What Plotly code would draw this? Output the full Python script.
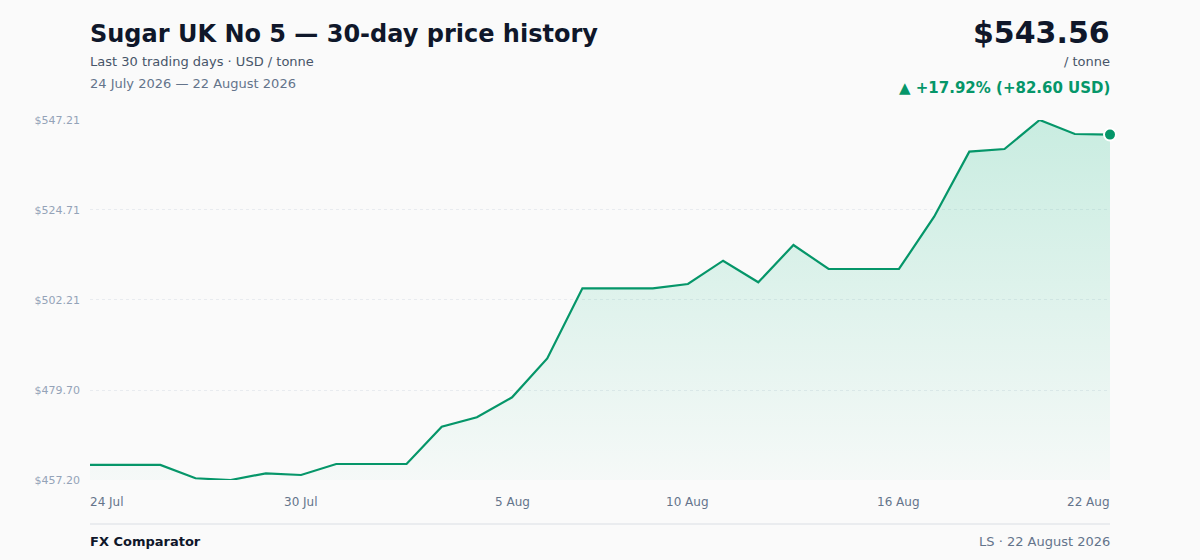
import plotly.graph_objects as go
import pandas as pd

# ---- data ----
dates = pd.date_range("2026-07-24", "2026-08-22", freq="D").strftime("%Y-%m-%d").tolist()
prices = [460.96, 460.96, 460.96, 457.63, 457.20, 458.87, 458.45, 461.20, 461.20, 461.20,
          470.53, 472.87, 477.87, 487.60, 505.13, 505.13, 505.13, 506.20, 512.03, 506.63,
          515.96, 509.96, 509.96, 509.96, 523.03, 539.30, 539.96, 547.21, 543.71, 543.56]
y_ticks = [457.20, 479.70, 502.21, 524.71, 547.21]
x_tick_dates = ["2026-07-24", "2026-07-30", "2026-08-05", "2026-08-10", "2026-08-16", "2026-08-22"]
x_tick_labels = ["24 Jul", "30 Jul", "5 Aug", "10 Aug", "16 Aug", "22 Aug"]

title = "Sugar UK No 5 — 30-day price history"
subtitle = "Last 30 trading days · USD / tonne"
date_range = "24 July 2026 — 22 August 2026"
last_price = prices[-1]
change = prices[-1] - prices[0]
change_pct = change / prices[0] * 100

GREEN = "#059669"
W, H = 1200, 560
M_L, M_R, M_T, M_B = 90, 90, 120, 80
PH = H - M_T - M_B
ymin, ymax = min(prices), max(prices)

fig = go.Figure()
# baseline for fill
fig.add_trace(go.Scatter(x=dates, y=[ymin] * len(dates), mode="lines",
                         line=dict(width=0), hoverinfo="skip", showlegend=False))
fig.add_trace(go.Scatter(
    x=dates, y=prices, mode="lines", fill="tonexty",
    line=dict(color=GREEN, width=2.2),
    fillgradient=dict(type="vertical",
                      colorscale=[[0, "rgba(16,185,129,0.02)"], [1, "rgba(16,185,129,0.21)"]]),
    hoverinfo="skip", showlegend=False))
fig.add_trace(go.Scatter(x=[dates[-1]], y=[last_price], mode="markers",
                         marker=dict(size=12, color=GREEN, line=dict(color="white", width=2)),
                         hoverinfo="skip", showlegend=False, cliponaxis=False))

def py(p):
    # pixel row -> paper y
    return (H - M_B - p) / PH

ann = []
def add(text, x, y, xanchor, size, color, xref="paper"):
    shift = -2 if xanchor == "left" else (2 if xanchor == "right" else 0)
    ann.append(dict(text=text, x=x, xref=xref, y=py(y), yref="paper",
                    xanchor=xanchor, yanchor="middle", showarrow=False, xshift=shift,
                    font=dict(size=size, color=color)))

add(f"<b>{title}</b>", 0, 34.5, "left", 24, "#0f172a")
add(subtitle, 0, 61.5, "left", 13, "#475569")
add(date_range, 0, 83.5, "left", 13, "#64748b")
add(f"<b>${last_price:.2f}</b>", 1, 32.5, "right", 30, "#0f172a")
add("/ tonne", 1, 61.5, "right", 13, "#475569")
add(f"<b>▲ +{change_pct:.2f}% (+{change:.2f} USD)</b>", 1, 87.5, "right", 15, GREEN)
add("<b>FX Comparator</b>", 0, 541.5, "left", 13, "#0f172a")
add("LS · 22 August 2026", 1, 541.5, "right", 13, "#64748b")
for i, (d, lab) in enumerate(zip(x_tick_dates, x_tick_labels)):
    anchor = "left" if i == 0 else ("right" if i == len(x_tick_dates) - 1 else "center")
    add(lab, d, 501.5, anchor, 12, "#64748b", xref="x")

fig.update_layout(
    width=W, height=H,
    margin=dict(l=M_L, r=M_R, t=M_T, b=M_B),
    paper_bgcolor="#fafafa", plot_bgcolor="#fafafa",
    font=dict(family="DejaVu Sans"),
    annotations=ann,
    shapes=[dict(type="line", xref="paper", x0=0, x1=1, yref="paper",
                 y0=py(524), y1=py(524), line=dict(color="#e5e7eb", width=1.5))],
    xaxis=dict(range=[dates[0], dates[-1]], showgrid=False, showticklabels=False,
               zeroline=False, showline=False, ticks=""),
    yaxis=dict(range=[ymin, ymax], tickvals=y_ticks,
               ticktext=[f"${v:.2f}" for v in y_ticks],
               showgrid=True, gridcolor="#e8ebef", griddash="dot", gridwidth=1,
               zeroline=False, showline=False, ticks="",
               tickfont=dict(size=11, color="#94a3b8"), ticklabelstandoff=9),
)

fig.write_html("out.html", config={"displayModeBar": False},
               post_script="document.body.style.margin='0';document.body.style.padding='0';"
                           "document.body.style.background='#fafafa';"
                           "document.documentElement.style.overflow='hidden';")
